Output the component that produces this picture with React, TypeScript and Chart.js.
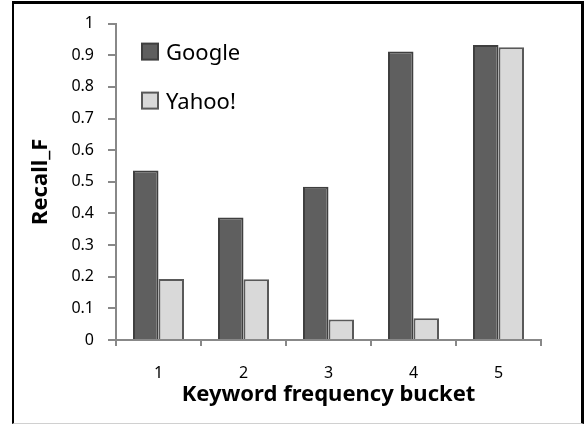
import React, { useEffect, useRef } from "react";
import { Chart, registerables } from "chart.js";

Chart.register(...registerables);

const categories = ["1", "2", "3", "4", "5"];
const googleValues = [0.536, 0.387, 0.484, 0.912, 0.932];
const yahooValues = [0.193, 0.192, 0.065, 0.069, 0.925];
const seriesLabels = ["Google", "Yahoo!"];
const xTitle = "Keyword frequency bucket";
const yTitle = "Recall_F";

const FONT = '"Noto Sans", "DejaVu Sans", sans-serif';

const insideLegend = {
  id: "insideLegend",
  afterDraw(chart: any) {
    const { ctx, chartArea } = chart;
    ctx.save();
    chart.data.datasets.forEach((ds: any, i: number) => {
      const x = chartArea.left + 26;
      const y = chartArea.top + 20 + i * 49;
      ctx.fillStyle = ds.backgroundColor;
      ctx.fillRect(x, y, 16, 16);
      ctx.strokeStyle = ds.borderColor;
      ctx.lineWidth = 2;
      ctx.strokeRect(x, y, 16, 16);
      ctx.font = `22px ${FONT}`;
      ctx.fillStyle = "#000";
      ctx.textBaseline = "alphabetic";
      ctx.textAlign = "left";
      ctx.fillText(ds.label, x + 24, y + 16);
    });
    ctx.restore();
  },
};

export default function App() {
  const canvasRef = useRef<HTMLCanvasElement | null>(null);

  useEffect(() => {
    if (!canvasRef.current) return;
    const chart = new Chart(canvasRef.current, {
      type: "bar",
      data: {
        labels: categories,
        datasets: [
          {
            label: seriesLabels[0],
            data: googleValues,
            backgroundColor: "#5f5f5f",
            borderColor: "#3f3f3f",
            borderWidth: 2,
            categoryPercentage: 0.6,
            barPercentage: 1,
          },
          {
            label: seriesLabels[1],
            data: yahooValues,
            backgroundColor: "#d9d9d9",
            borderColor: "#595959",
            borderWidth: 2,
            categoryPercentage: 0.6,
            barPercentage: 1,
          },
        ],
      },
      options: {
        animation: false,
        responsive: true,
        maintainAspectRatio: false,
        layout: { padding: { top: 20, right: 46, left: 0, bottom: 0 } },
        plugins: {
          legend: { display: false },
          tooltip: { enabled: false },
        },
        scales: {
          x: {
            grid: {
              display: true,
              drawOnChartArea: false,
              drawTicks: true,
              tickLength: 6,
              color: "#888",
              lineWidth: 2,
            },
            border: { display: true, color: "#888", width: 2 },
            ticks: {
              color: "#000",
              font: { family: FONT, size: 16 },
              padding: 18,
              maxRotation: 0,
            },
            title: {
              display: true,
              text: xTitle,
              color: "#000",
              font: { family: FONT, size: 22, weight: "bold" },
              padding: { top: 0, bottom: 16 },
            },
            afterFit(scale: any) {
              scale.height = 84;
            },
          },
          y: {
            min: 0,
            max: 1,
            grid: {
              display: true,
              drawOnChartArea: false,
              drawTicks: true,
              tickLength: 8,
              color: "#888",
              lineWidth: 2,
            },
            border: { display: true, color: "#888", width: 2 },
            ticks: {
              stepSize: 0.1,
              color: "#000",
              font: { family: FONT, size: 16 },
              padding: 14,
              callback: (v: any) => Number(Number(v).toFixed(1)).toString(),
            },
            title: {
              display: true,
              text: yTitle,
              color: "#000",
              font: { family: FONT, size: 22, weight: "bold" },
              padding: { top: 28, bottom: 0 },
            },
            afterFit(scale: any) {
              scale.width = 116;
            },
          },
        },
      },
      plugins: [insideLegend],
    });
    return () => chart.destroy();
  }, []);

  return (
    <div
      style={{
        position: "fixed",
        left: 0,
        top: 0,
        width: 587,
        height: 424,
        background: "#fff",
      }}
    >
      <canvas ref={canvasRef} />
      <div
        style={{
          position: "absolute",
          left: 12,
          top: 1,
          width: 567,
          height: 419,
          borderTop: "3px solid #000",
          borderLeft: "2px solid #000",
          borderRight: "3px solid #000",
          borderBottom: "1px solid #d0d0d0",
          pointerEvents: "none",
        }}
      />
    </div>
  );
}
